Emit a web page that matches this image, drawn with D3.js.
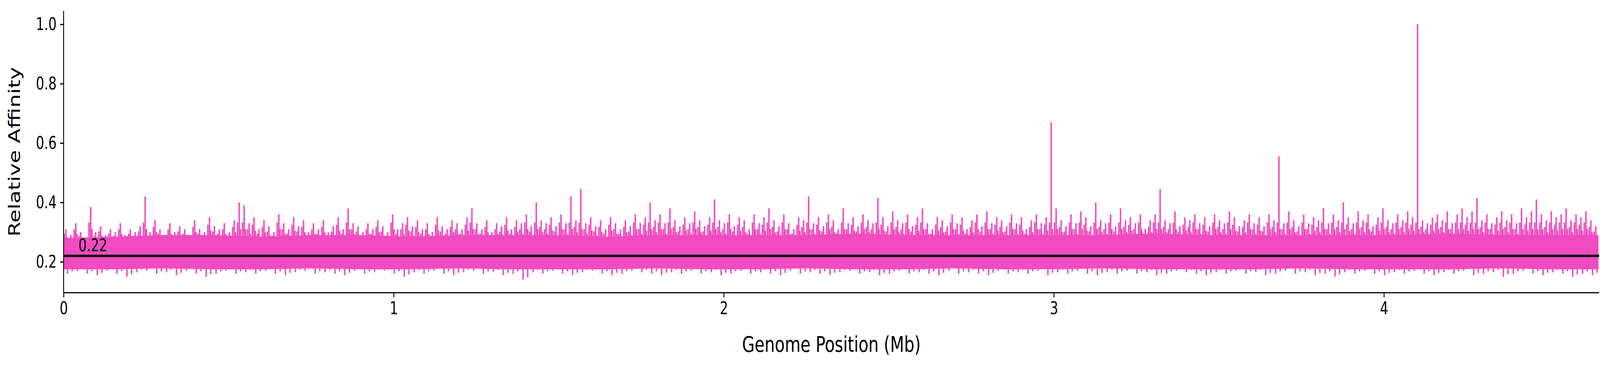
<!DOCTYPE html>
<html><head><meta charset="utf-8">
<script src="https://cdn.jsdelivr.net/npm/d3@7"></script>
<style>html,body{margin:0;padding:0;background:#fff;overflow:hidden}svg{display:block;width:100vw;height:100vh}</style>
</head><body><svg id="c" viewBox="0 0 5434 934" preserveAspectRatio="none"></svg>
<script>
// Upper peak values, one per 0.015 Mb step
const hiStep = 0.015;
const hiVals = [
.31,.29,.33,.30,.28,.385,.30,.32,.29,.31,
.30,.33,.29,.31,.30,.32,.42,.30,.34,.31,
.29,.33,.30,.32,.31,.29,.34,.31,.30,.35,
.32,.31,.33,.30,.34,.40,.39,.33,.35,.31,
.34,.32,.30,.36,.33,.31,.35,.32,.34,.30,
.33,.31,.34,.30,.32,.35,.31,.38,.33,.32,
.30,.33,.31,.34,.32,.30,.36,.31,.33,.35,
.32,.34,.31,.33,.30,.35,.32,.31,.34,.33,
.31,.35,.38,.33,.31,.34,.30,.33,.32,.35,
.31,.34,.33,.36,.32,.40,.34,.33,.35,.32,
.36,.33,.42,.34,.445,.33,.35,.32,.34,.31,
.35,.33,.31,.34,.32,.36,.33,.35,.40,.34,
.36,.33,.38,.34,.32,.35,.33,.37,.34,.32,
.35,.41,.34,.33,.36,.32,.35,.34,.31,.36,
.33,.35,.38,.34,.32,.36,.33,.31,.35,.34,
.42,.33,.35,.32,.36,.34,.31,.38,.33,.35,
.32,.36,.34,.33,.415,.35,.32,.37,.34,.33,
.36,.32,.35,.38,.33,.31,.35,.34,.32,.36,
.33,.35,.31,.34,.36,.32,.37,.33,.35,.34,
.32,.36,.33,.35,.31,.34,.36,.33,.35,.67,
.38,.34,.32,.36,.33,.37,.35,.32,.40,.34,
.33,.36,.32,.38,.34,.35,.33,.36,.31,.34,
.36,.445,.34,.33,.37,.32,.35,.34,.36,.33,
.35,.32,.36,.34,.33,.37,.35,.32,.34,.36,
.33,.35,.32,.36,.34,.555,.33,.37,.34,.32,
.36,.33,.35,.34,.38,.33,.36,.34,.40,.35,
.33,.37,.34,.36,.32,.35,.38,.34,.33,.36,
.34,.37,.35,1.0,.34,.33,.35,.36,.34,.37,
.33,.36,.38,.35,.37,.415,.34,.36,.33,.35,
.37,.34,.36,.33,.38,.35,.37,.41,.36,.34,
.37,.35,.36,.38,.34,.36,.35,.37,.34,.32
];
// Lower dip values, one per 0.03 Mb step
const loStep = 0.03;
const loVals = [
.16,.17,.16,.155,.17,.16,.15,.165,.17,.16,
.165,.155,.17,.16,.15,.16,.17,.16,.165,.16,
.17,.16,.155,.165,.17,.16,.165,.16,.155,.17,
.16,.165,.17,.16,.15,.165,.16,.17,.16,.155,
.165,.17,.16,.165,.155,.16,.14,.165,.16,.17,
.16,.155,.165,.17,.16,.155,.16,.17,.165,.16,
.155,.165,.16,.17,.16,.165,.155,.16,.17,.16,
.165,.16,.155,.17,.16,.165,.16,.155,.165,.17,
.16,.165,.155,.16,.17,.16,.165,.16,.155,.17,
.16,.165,.16,.155,.17,.16,.165,.16,.17,.155,
.165,.16,.17,.16,.155,.165,.16,.17,.16,.165,
.155,.16,.17,.165,.16,.155,.165,.16,.17,.16,
.165,.155,.16,.17,.16,.165,.155,.16,.15,.165,
.16,.17,.16,.155,.165,.16,.17,.16,.155,.165,
.16,.17,.155,.16,.165,.15,.16,.17,.16,.155,
.165,.16,.15,.16,.155
];
// Dense core band (0.15 Mb steps)
const bandStep = 0.15;
const bandTop = [.28,.285,.29,.29,.285,.29,.29,.285,.29,.29,.29,.285,.29,.29,.29,.29,.295,.29,.29,.29,.29,.29,.295,.29,.29,.29,.29,.29,.295,.29,.29,.29];
const bandBot = [.175,.175,.178,.175,.175,.178,.175,.175,.178,.175,.175,.175,.178,.175,.175,.178,.175,.175,.178,.175,.175,.178,.175,.175,.175,.178,.175,.175,.175,.178,.175,.175];
const meanVal = 0.22;
const xTicks = [0,1,2,3,4];
const yTicks = [0.2,0.4,0.6,0.8,1.0];
const xMax = 4.652;

const svg = d3.select('#c');
const pink = '#F04BC0';
const x = d3.scaleLinear().domain([0, xMax]).range([216, 5431]);
const y = d3.scaleLinear().domain([0.096, 1.045]).range([749, 28]);
const font = 'DejaVu Sans, sans-serif';

const band = bandTop.map((t,i)=>({x:Math.min(i*bandStep,xMax), t, b:bandBot[i]}));
svg.append('path').datum(band)
  .attr('d', d3.area().x(d=>x(d.x)).y0(d=>y(d.b)).y1(d=>y(d.t)))
  .attr('fill', pink);

svg.append('g').selectAll('line').data(hiVals).join('line')
  .attr('x1',(d,i)=>x(i*hiStep+0.007)).attr('x2',(d,i)=>x(i*hiStep+0.007))
  .attr('y1',y(0.25)).attr('y2',d=>y(d))
  .attr('stroke',pink).attr('stroke-width',5);
svg.append('g').selectAll('line').data(hiVals).join('line')
  .attr('x1',(d,i)=>x(i*hiStep+0.002)).attr('x2',(d,i)=>x(i*hiStep+0.002))
  .attr('y1',y(0.25)).attr('y2',(d,i)=>y(0.25+(Math.min(d,0.36)-0.25)*0.75))
  .attr('stroke',pink).attr('stroke-width',5);
svg.append('g').selectAll('line').data(hiVals).join('line')
  .attr('x1',(d,i)=>x(i*hiStep+0.011)).attr('x2',(d,i)=>x(i*hiStep+0.011))
  .attr('y1',y(0.25)).attr('y2',(d,i)=>y(0.25+(Math.min(d,0.36)-0.25)*0.55))
  .attr('stroke',pink).attr('stroke-width',5);
svg.append('g').selectAll('line').data(loVals).join('line')
  .attr('x1',(d,i)=>x(i*loStep+0.012)).attr('x2',(d,i)=>x(i*loStep+0.012))
  .attr('y1',y(0.2)).attr('y2',d=>y(d))
  .attr('stroke',pink).attr('stroke-width',5);
svg.append('g').selectAll('line').data(loVals).join('line')
  .attr('x1',(d,i)=>x(i*loStep+0.026)).attr('x2',(d,i)=>x(i*loStep+0.026))
  .attr('y1',y(0.2)).attr('y2',d=>y(d+0.008))
  .attr('stroke',pink).attr('stroke-width',5);

svg.append('line').attr('x1',x(0)).attr('x2',x(xMax))
  .attr('y1',y(meanVal)).attr('y2',y(meanVal))
  .attr('stroke','#000').attr('stroke-width',6);
svg.append('text').attr('x',x(0.045)).attr('y',y(meanVal)-12)
  .attr('font-family',font).attr('font-size',44).text(meanVal.toFixed(2));

const xa = svg.append('g').attr('transform','translate(0,749)')
  .call(d3.axisBottom(x).tickValues(xTicks).tickFormat(d3.format('d')).tickSize(12).tickPadding(12));
const ya = svg.append('g').attr('transform','translate(216,0)')
  .call(d3.axisLeft(y).tickValues(yTicks).tickFormat(d3.format('.1f')).tickSize(12).tickPadding(12));
[xa,ya].forEach(a=>{
  a.selectAll('path').attr('stroke-width',3).attr('stroke','#000');
  a.selectAll('line').attr('stroke-width',3);
  a.selectAll('text').attr('font-family',font).attr('font-size',44).attr('fill','#000');
});
xa.select('path').attr('d',`M${x(0)},0H${x(xMax)}`);
ya.select('path').attr('d',`M0,${y(0.096)}V${y(1.045)}`);

svg.append('text').attr('x',(x(0)+x(xMax))/2).attr('y',900).attr('text-anchor','middle')
  .attr('font-family',font).attr('font-size',55).text('Genome Position (Mb)');
svg.append('text').attr('transform',`translate(68,${(749+28)/2}) rotate(-90)`).attr('text-anchor','middle')
  .attr('font-family',font).attr('font-size',55).text('Relative Affinity');
</script></body></html>
